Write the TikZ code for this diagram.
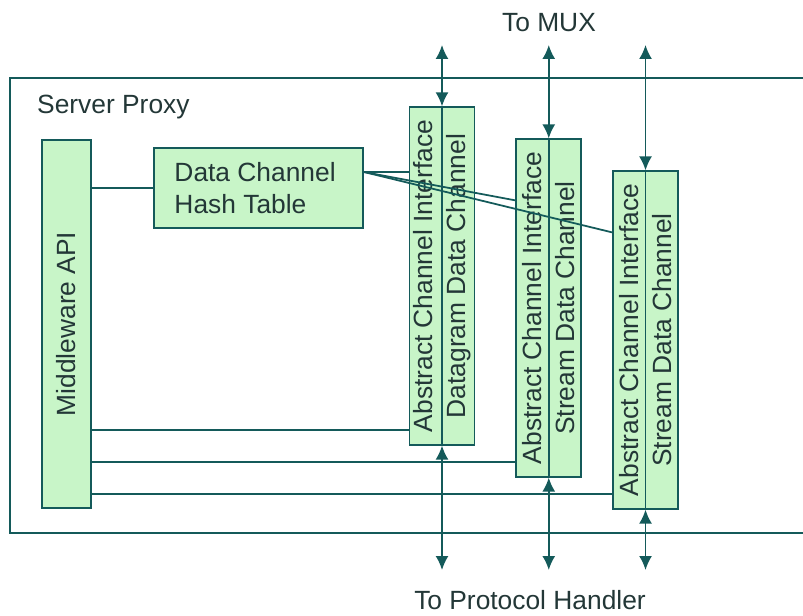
\documentclass[tikz,border=0pt]{standalone}
\usepackage{fontspec}
\setmainfont{Liberation Sans}
\usetikzlibrary{positioning, calc, arrows.meta}
\definecolor{wirecol}{RGB}{20,90,90}
\definecolor{boxfill}{RGB}{200,245,200}
\definecolor{textcol}{RGB}{35,55,55}

\begin{document}
\begin{tikzpicture}[
    wire/.style={draw=wirecol, line width=1pt},
    block/.style={wire, fill=boxfill, inner sep=0pt},
    chan/.style={block, minimum width=1.3cm, minimum height=6.75cm},
    txt/.style={text=textcol, font=\fontsize{15}{18.5}\selectfont},
    dbl/.style={wire, {Latex[length=0.28cm,width=0.26cm]}-{Latex[length=0.28cm,width=0.26cm]}}
]
    \useasboundingbox (0,0) rectangle (16.06,-12.3);

    % Server proxy frame, open on the right
    \draw[wire] (16.06,-1.56) -| (0.2,-10.66) -- (16.06,-10.66);
    \node[txt, anchor=west] (proxy) at (0.62,-2.14) {Server Proxy};

    % Middleware API and hash table
    \node[block, minimum width=0.98cm, minimum height=7.36cm] (mw) at (1.33,-6.48) {};
    \node[txt, rotate=90] (mwt) at (mw) {Middleware API};
    \node[block, minimum width=4.18cm, minimum height=1.6cm] (ht) at (5.17,-3.76) {};
    \node[txt, align=left, anchor=west, inner sep=0pt] (htt) at ($(ht.west)+(0.42,0)$) {Data Channel\\Hash Table};
    \draw[wire] (mw.east |- ht.west) -- (ht.west);

    % Channels
    \node[chan] (b1) at (8.84,-5.52) {};
    \node[chan, right=0.8cm of b1, yshift=-0.64cm] (b2) {};
    \node[chan, right=0.6cm of b2, yshift=-0.64cm] (b3) {};

    \coordinate (top) at (0,-0.9);
    \coordinate (bot) at (0,-11.4);
    \foreach \b in {b1,b2,b3} {
        \path (\b.south west) ++(0,0.32) coordinate (\b-in);
        \draw[wire] (mw.east |- \b-in) -- (\b-in);
        \draw[wire] (\b.north) -- (\b.south);
        \draw[dbl] (\b.north |- top) -- (\b.north);
        \draw[dbl] (\b.south) -- (\b.south |- bot);
    }

    \node[txt, rotate=90, align=center] (t1) at (b1) {Abstract Channel Interface\\Datagram Data Channel};
    \node[txt, rotate=90, align=center] (t2) at (b2) {Abstract Channel Interface\\Stream Data Channel};
    \node[txt, rotate=90, align=center] (t3) at (b3) {Abstract Channel Interface\\Stream Data Channel};

    % Hash table to channels
    \coordinate (hout) at ($(ht.east)+(0,0.32)$);
    \draw[wire] (hout) -- (b1.west |- hout);
    \draw[wire] (hout) -- ($(b2.north west)+(0,-1.24)$);
    \draw[wire] (hout) -- ($(b3.north west)+(0,-1.24)$);

    % Outside ends
    \node[txt] (mux) at (10.98,-0.46) {To MUX};
    \node[txt] (ph) at (10.6,-12.0) {To Protocol Handler};

\end{tikzpicture}
\end{document}
